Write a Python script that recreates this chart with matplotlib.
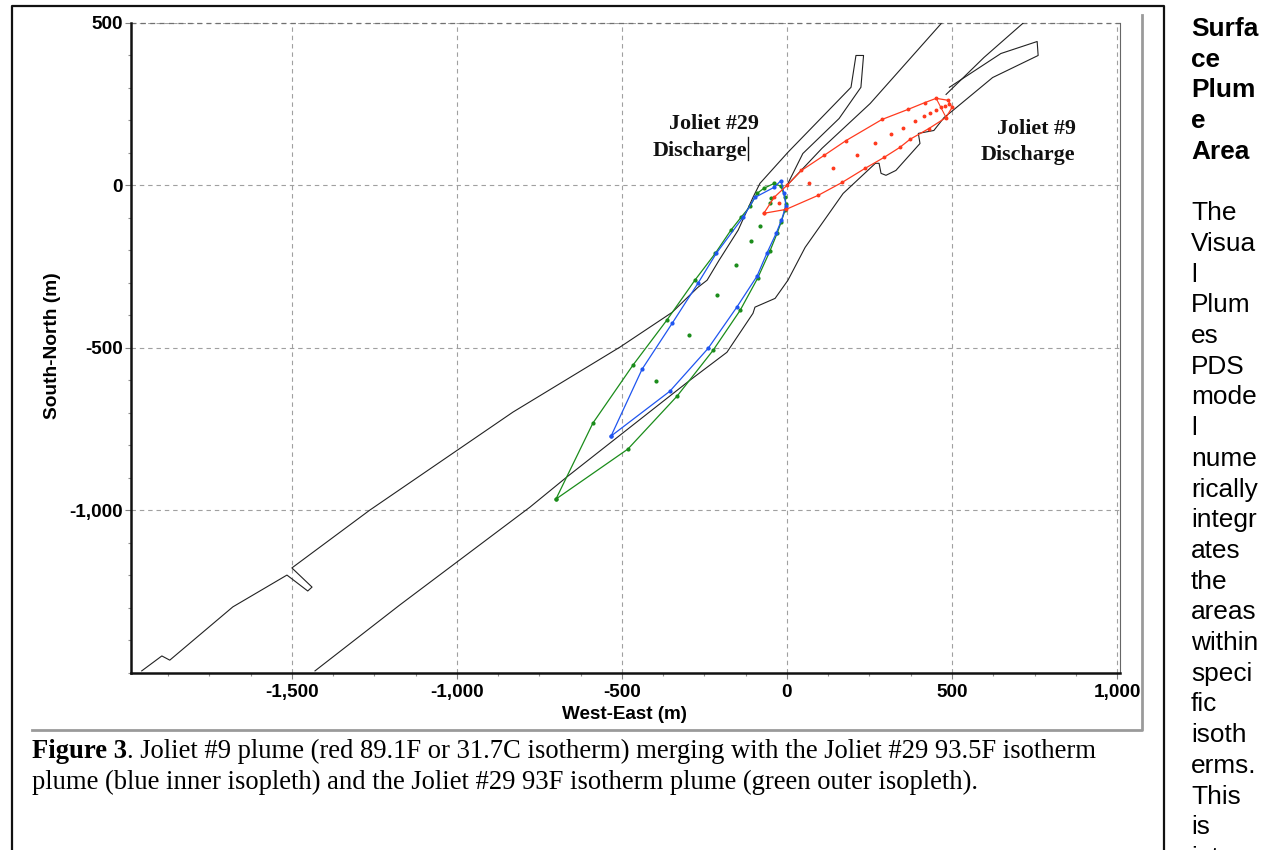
# Joliet plume figure: page screenshot with chart, caption and narrow text column
import matplotlib
matplotlib.use("Agg")
import matplotlib.pyplot as plt
from matplotlib.ticker import MultipleLocator, FuncFormatter

# shoreline traces (m)
bank_left_x = [-1955, -1894, -1870, -1679, -1515, -1452, -1439, -1500, -1264, -830, -506, -348, -270, -242,
               -206, -148, -103, -82, 3, 194, 209, 232, 224, 158, 48, 0]
bank_left_y = [-1495, -1449, -1462, -1298, -1200, -1249, -1237, -1178, -1000, -698, -498, -391, -314, -292,
               -231, -138, -37, 6, 102, 302, 400, 400, 302, 206, 98, 0]
bank_mid_x = [0, 106, 252, 467]
bank_mid_y = [0, 114, 252, 498]
bank_upper_x = [482, 597, 718]
bank_upper_y = [280, 394, 502]
bank_right_x = [492, 648, 758, 761, 623, 503, 476, 445, 398, 403, 330, 300, 285, 279, 268, 170, 55, 3, -36, -97,
                -103, -182, -294, -667, -779, -1173, -1430]
bank_right_y = [302, 406, 443, 400, 332, 231, 209, 169, 160, 129, 46, 31, 37, 68, 68, -25, -191, -292, -348, -375,
                -394, -514, -600, -898, -991, -1292, -1495]

# plume isopleths (m)
green_x = [-700, -588, -467, -364, -279, -217, -170, -139, -112, -91, -70, -39, -18, -6, -3, -6, -18, -30, -52,
           -89, -142, -224, -333, -482, -700]
green_y = [-966, -732, -554, -415, -292, -209, -138, -98, -65, -25, -9, 6, -3, -37, -58, -77, -114, -148, -203,
           -286, -385, -508, -649, -812, -966]
green_mid_x = [-48, -52, -82, -109, -153, -211, -297, -397]
green_mid_y = [-40, -55, -126, -172, -246, -338, -462, -603]
blue_x = [-533, -439, -348, -270, -214, -133, -97, -39, -18, -9, -3, -17, -33, -61, -91, -152, -239, -355, -533]
blue_y = [-772, -566, -425, -302, -209, -98, -37, -6, 15, -25, -62, -108, -148, -209, -280, -375, -502, -634, -772]
red_x = [-70, -39, 0, 44, 112, 179, 288, 367, 418, 452, 488, 500, 482, 430, 373, 342, 294, 236, 167, 94, -3, -70]
red_y = [-86, -37, 0, 46, 92, 138, 203, 234, 255, 268, 262, 240, 209, 175, 142, 117, 86, 52, 9, -31, -74, -86]
red_mid_x = [-23, 68, 138, 211, 268, 315, 352, 388, 415, 433, 452, 467, 480, 490]
red_mid_y = [-55, 6, 52, 95, 132, 157, 178, 197, 215, 222, 231, 240, 245, 250]
red_end_x = [452, 482]
red_end_y = [268, 209]

x_ticks = [-1500, -1000, -500, 0, 500, 1000]
y_ticks = [-1000, -500, 0, 500]

caption_1 = [("Figure 3", "bold"), (". Joliet #9 plume (red 89.1F or 31.7C isotherm) merging with the Joliet #29 93.5F isotherm", "normal")]
caption_2 = "plume (blue inner isopleth) and the Joliet #29 93F isotherm plume (green outer isopleth)."
side_bold = ["Surfa", "ce", "Plum", "e", "Area"]
side_text = ["The", "Visua", "l", "Plum", "es", "PDS", "mode", "l", "nume", "rically", "integr", "ates", "the",
             "areas", "within", "speci", "fic", "isoth", "erms.", "This", "is", "intern"]

RED = "#ff3a1e"
BLUE = "#1f55f0"
GREEN = "#1a8c1a"
GRID = "#a0a0a0"
W, H = 1269, 850

fig = plt.figure(figsize=(W / 100, H / 100), dpi=100)

# page layer, in pixels
page = fig.add_axes([0, 0, 1, 1])
page.set_xlim(0, W)
page.set_ylim(H, 0)
page.axis("off")

page.plot([12, 12, 1163.5, 1163.5], [H, 5.5, 5.5, H], color="#111111", lw=1.6)
page.plot([32, 1142, 1142], [730, 730, 15], color="#9a9a9a", lw=2)

# chart
ax = fig.add_axes([130.5 / W, 1 - 672.5 / H, (1120 - 130.5) / W, (672.5 - 23) / H])
ax.patch.set_alpha(0)
ax.set_xlim(-1989, 1009)
ax.set_ylim(-1500, 500)

for s in ["left", "bottom"]:
    ax.spines[s].set_linewidth(1.8)
    ax.spines[s].set_color("#111111")
ax.spines["right"].set_linewidth(0.8)
ax.spines["right"].set_color("#666666")
ax.spines["top"].set_visible(False)

ax.set_xticks(x_ticks)
ax.set_yticks(y_ticks)
ax.xaxis.set_minor_locator(MultipleLocator(125))
ax.yaxis.set_minor_locator(MultipleLocator(100))
fmt = FuncFormatter(lambda v, p: f"{int(v):,}")
ax.xaxis.set_major_formatter(fmt)
ax.yaxis.set_major_formatter(fmt)
ax.tick_params(which="major", length=4, width=0.8, color="#808080")
ax.tick_params(which="minor", length=2.5, width=0.8, color="#909090")
ax.tick_params(axis="y", which="major", pad=1.5)
ax.tick_params(axis="x", which="major", pad=4.5)
for lab in ax.get_xticklabels() + ax.get_yticklabels():
    lab.set_family("Liberation Sans")
    lab.set_weight("bold")
    lab.set_size(13.6)
ax.grid(True, which="major", color=GRID, linestyle=(0, (4, 3.5)), linewidth=0.8)
ax.axhline(500, color="#707070", linestyle=(0, (4, 3.5)), linewidth=0.9, clip_on=False)
ax.set_axisbelow(True)

for bx, by in [(bank_left_x, bank_left_y), (bank_mid_x, bank_mid_y), (bank_upper_x, bank_upper_y),
               (bank_right_x, bank_right_y)]:
    ax.plot(bx, by, color="#222222", lw=0.8)

ax.plot(green_x, green_y, color=GREEN, lw=0.9, marker="o", ms=2)
ax.plot(green_mid_x, green_mid_y, ls="none", color=GREEN, marker="o", ms=2)
ax.plot(blue_x, blue_y, color=BLUE, lw=0.9, marker="o", ms=2)
ax.plot(red_x, red_y, color=RED, lw=0.9, marker="o", ms=1.8)
ax.plot(red_mid_x, red_mid_y, ls="none", color=RED, marker="o", ms=1.8)
ax.plot(red_end_x, red_end_y, color=RED, lw=0.8)

ax.set_xlabel("West-East (m)", family="Liberation Sans", weight="bold", size=13.6, va="center")
ax.set_ylabel("South-North (m)", family="Liberation Sans", weight="bold", size=13.8, va="center")
ax.xaxis.set_label_coords(0.499, -0.0645)
ax.yaxis.set_label_coords(-0.0793, 0.503)

# labels on the chart
serif = dict(family="Liberation Serif", weight="bold", size=15.8, color="#111111")
page.text(669, 129, "Joliet #29", ha="left", va="baseline", **serif)
page.text(653, 156, "Discharge", ha="left", va="baseline", **serif)
page.plot([747.5, 747.5], [137, 160], color="#111111", lw=1)
page.text(997, 134, "Joliet #9", ha="left", va="baseline", **serif)
page.text(981, 160, "Discharge", ha="left", va="baseline", **serif)

# caption
cap = dict(family="Liberation Serif", size=19.2, color="black", va="baseline")
t1 = page.text(32, 758, caption_1[0][0], weight="bold", **cap)
fig.canvas.draw()
end = t1.get_window_extent().x1
page.text(end, 758, caption_1[1][0], **cap)
page.text(32, 789, caption_2, **cap)

# side column
side = dict(family="Liberation Sans", size=18.9, color="black", va="baseline", ha="left")
for i, word in enumerate(side_bold):
    page.text(1191, 36 + 30.7 * i, word, weight="bold", **side)
for i, word in enumerate(side_text):
    page.text(1191, 36 + 30.7 * (i + 6), word, **side)

fig.savefig("out.png", dpi=100)
